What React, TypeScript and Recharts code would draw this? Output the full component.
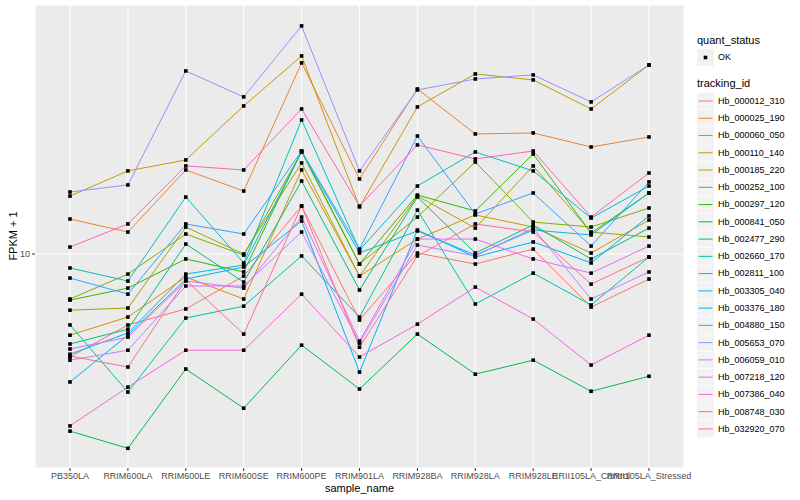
import React from 'react';
import { LineChart, Line, XAxis, YAxis, CartesianGrid } from 'recharts';

const categories = ['PB350LA', 'RRIM600LA', 'RRIM600LE', 'RRIM600SE', 'RRIM600PE', 'RRIM901LA', 'RRIM928BA', 'RRIM928LA', 'RRIM928LE', 'RRII105LA_Control', 'RRII105LA_Stressed'];

const trackingIds = ['Hb_000012_310', 'Hb_000025_190', 'Hb_000060_050', 'Hb_000110_140', 'Hb_000185_220', 'Hb_000252_100', 'Hb_000297_120', 'Hb_000841_050', 'Hb_002477_290', 'Hb_002660_170', 'Hb_002811_100', 'Hb_003305_040', 'Hb_003376_180', 'Hb_004880_150', 'Hb_005653_070', 'Hb_006059_010', 'Hb_007218_120', 'Hb_007386_040', 'Hb_008748_030', 'Hb_032920_070'];

const colors = ['#F8766D', '#EA8331', '#D89000', '#C09B00', '#A3A500', '#7CAE00', '#39B600', '#00BB4E', '#00BF7D', '#00C1A3', '#00BFC4', '#00BAE0', '#00B0F6', '#35A2FF', '#9590FF', '#C77CFF', '#E76BF3', '#FA62DB', '#FF62BC', '#FF6C91'];

const hb_000012_310 = [5.53, 6.65, 7.29, 8.81, 13.18, 6.84, 10.06, 9.44, 10.29, 7.37, 8.66];
const hb_000025_190 = [12.23, 11.35, 16.22, 14.37, 30.03, 15.4, 25.85, 19.95, 20.07, 18.51, 19.61];
const hb_000060_050 = [6.27, 6.96, 8.76, 7.72, 16.22, 8.81, 10.9, 12.52, 11.68, 10.06, 12.16];
const hb_000110_140 = [13.96, 16.13, 17.18, 23.44, 31.26, 13.11, 23.31, 28.18, 27.23, 23.04, 29.68];
const hb_000185_220 = [7.24, 7.33, 11.68, 10.0, 16.89, 8.81, 13.96, 11.61, 16.6, 11.35, 11.03];
const hb_000252_100 = [7.72, 8.91, 11.22, 9.94, 17.99, 9.44, 12.37, 16.98, 12.02, 11.68, 13.03];
const hb_000297_120 = [7.67, 8.22, 9.72, 9.02, 18.09, 9.44, 14.04, 12.81, 17.78, 11.28, 14.21];
const hb_000841_050 = [3.61, 3.27, 5.16, 4.12, 5.92, 4.6, 6.31, 5.01, 5.43, 4.54, 4.95];
const hb_002477_290 = [5.96, 6.49, 10.59, 8.51, 15.22, 8.13, 13.88, 10.06, 11.82, 9.72, 11.61];
const hb_002660_170 = [6.65, 4.52, 6.92, 7.41, 9.89, 6.96, 12.88, 7.5, 8.96, 7.46, 9.83];
const hb_002811_100 = [9.23, 8.56, 13.88, 9.5, 21.63, 10.23, 14.79, 17.99, 16.13, 12.3, 14.79];
const hb_003305_040 = [5.62, 6.35, 8.91, 9.39, 17.99, 10.06, 11.42, 9.94, 11.48, 11.16, 14.21];
const hb_003376_180 = [4.79, 6.27, 8.66, 9.28, 12.09, 5.07, 11.48, 9.83, 10.72, 9.5, 12.45];
const hb_004880_150 = [8.71, 7.94, 11.89, 11.22, 18.09, 10.29, 19.72, 12.59, 14.21, 10.47, 15.14];
const hb_005653_070 = [14.29, 14.88, 28.67, 24.69, 37.15, 16.13, 25.7, 27.38, 28.02, 23.99, 29.68];
const hb_006059_010 = [5.43, 5.75, 8.32, 8.32, 11.35, 5.99, 10.53, 9.89, 11.61, 7.72, 9.02];
const hb_007218_120 = [5.79, 6.2, 8.56, 8.22, 12.37, 6.06, 10.9, 10.9, 9.72, 8.96, 10.47];
const hb_007386_040 = [3.72, 4.65, 5.75, 5.75, 7.94, 5.53, 6.68, 8.27, 6.88, 5.28, 6.27];
const hb_008748_030 = [10.41, 11.89, 16.6, 16.22, 23.04, 13.18, 18.73, 17.28, 18.09, 12.37, 15.94];
const hb_032920_070 = [5.56, 5.22, 8.61, 6.31, 13.18, 5.85, 9.89, 11.89, 11.35, 8.41, 9.83];

const seriesValues = [hb_000012_310, hb_000025_190, hb_000060_050, hb_000110_140, hb_000185_220, hb_000252_100, hb_000297_120, hb_000841_050, hb_002477_290, hb_002660_170, hb_002811_100, hb_003305_040, hb_003376_180, hb_004880_150, hb_005653_070, hb_006059_010, hb_007218_120, hb_007386_040, hb_008748_030, hb_032920_070];

const yTicks = [10];

const data = categories.map((c, i) => {
  const row: any = { sample_name: c };
  trackingIds.forEach((id, j) => {
    row[id] = seriesValues[j][i];
  });
  return row;
});

const FONT = '"Liberation Sans", Arial, Helvetica, sans-serif';

const PointDot = (props: any) => {
  const { cx, cy } = props;
  if (cx == null || cy == null) return null;
  return <rect x={cx - 1.8} y={cy - 1.8} width={3.6} height={3.6} fill="#000" />;
};

export default function App() {
  const legendTop = 101;
  const legendStep = 17.26;
  return (
    <div style={{ position: 'absolute', left: 0, top: 0, width: 800, height: 500, background: '#fff', fontFamily: FONT }}>
      <LineChart width={800} height={500} data={data} margin={{ top: 5, right: 116, bottom: 0, left: 0 }}>
        <CartesianGrid fill="#EBEBEB" stroke="#FFFFFF" strokeWidth={1.1} />
        <XAxis
          dataKey="sample_name"
          type="category"
          interval={0}
          height={32}
          padding={{ left: 35, right: 35 }}
          axisLine={false}
          tickSize={3}
          tickLine={{ stroke: '#333333' }}
          tick={{ fontSize: 9, fill: '#4D4D4D', fontFamily: FONT }}
        />
        <YAxis
          scale="log"
          domain={[2.92, 41.9]}
          allowDataOverflow
          ticks={yTicks}
          width={35}
          axisLine={false}
          tickSize={3}
          tickLine={{ stroke: '#333333' }}
          tick={{ fontSize: 9, fill: '#4D4D4D', fontFamily: FONT }}
        />
        {trackingIds.map((id, j) => (
          <Line
            key={id}
            type="linear"
            dataKey={id}
            stroke={colors[j]}
            strokeWidth={1}
            dot={false}
            activeDot={false}
            isAnimationActive={false}
          />
        ))}
        {trackingIds.map((id) => (
          <Line
            key={id + '_pt'}
            type="linear"
            dataKey={id}
            stroke="none"
            dot={<PointDot />}
            activeDot={false}
            legendType="none"
            isAnimationActive={false}
          />
        ))}
      </LineChart>
      <svg width={800} height={500} style={{ position: 'absolute', left: 0, top: 0, pointerEvents: 'none' }}>
        <text x={14} y={236} transform="rotate(-90 14 236)" textAnchor="middle" dominantBaseline="middle" fontSize={11} fill="#000" fontFamily={FONT}>FPKM + 1</text>
        <text x={359.5} y={489} textAnchor="middle" dominantBaseline="middle" fontSize={11} fill="#000" fontFamily={FONT}>sample_name</text>

        <text x={697} y={41} dominantBaseline="middle" fontSize={11} fill="#000" fontFamily={FONT}>quant_status</text>
        <rect x={697} y={49} width={17} height={17} fill="#F2F2F2" />
        <rect x={703.7} y={55.7} width={3.6} height={3.6} fill="#000" />
        <text x={718} y={57.5} dominantBaseline="middle" fontSize={9} fill="#000" fontFamily={FONT}>OK</text>

        <text x={697} y={84} dominantBaseline="middle" fontSize={11} fill="#000" fontFamily={FONT}>tracking_id</text>
        {trackingIds.map((id, j) => {
          const cy = legendTop + j * legendStep;
          return (
            <g key={id}>
              <rect x={697} y={cy - 8.3} width={17} height={16.6} fill="#F2F2F2" />
              <line x1={698.5} x2={712.5} y1={cy} y2={cy} stroke={colors[j]} strokeWidth={1} />
              <text x={718} y={cy + 0.5} dominantBaseline="middle" fontSize={9} fill="#000" fontFamily={FONT}>{id}</text>
            </g>
          );
        })}
      </svg>
    </div>
  );
}
